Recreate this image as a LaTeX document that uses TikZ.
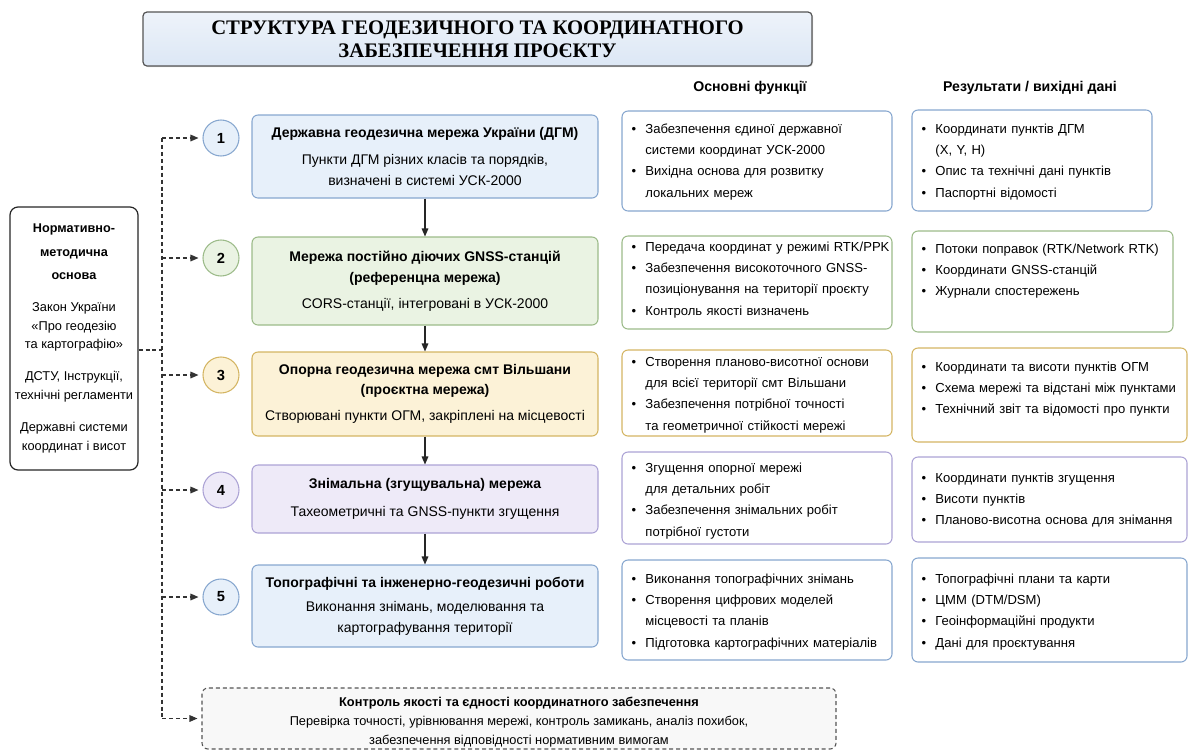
\documentclass[tikz,border=0pt]{standalone}
\usepackage{fontspec}
\setmainfont{Liberation Sans}
\newfontfamily\headfont{Liberation Serif}
\usetikzlibrary{arrows.meta,positioning,shadows}

\definecolor{gdblue}{HTML}{E7F0FA}
\definecolor{gdblueline}{HTML}{87A7CF}
\definecolor{gdgreen}{HTML}{EAF3E3}
\definecolor{gdgreenline}{HTML}{9CBB89}
\definecolor{gdyellow}{HTML}{FCF2D7}
\definecolor{gdyellowline}{HTML}{D4B563}
\definecolor{gdpurple}{HTML}{EEEAF8}
\definecolor{gdpurpleline}{HTML}{ACA3D5}
\definecolor{gdtitle}{HTML}{DCE7F5}
\definecolor{gdtitletop}{HTML}{EEF3FA}
\definecolor{gdgray}{HTML}{555555}
\definecolor{gdctrl}{HTML}{F8F8F8}

% bullet item with hanging indent
\newcommand{\bul}[1]{\par\hangindent=1.05em\hangafter=1\noindent\makebox[1.05em][l]{\textbullet}#1\par}

\begin{document}
\begin{tikzpicture}[x=0.75pt,y=-0.75pt,
  stage/.style={draw=#1line,fill=#1,line width=0.8pt,rounded corners=4.5pt,
    minimum width=259.5pt,align=center,font=\fontsize{10.5}{15.5}\selectfont},
  numdisc/.style={circle,draw=#1line,fill=#1,line width=0.8pt,minimum size=27pt,
    inner sep=0pt,font=\bfseries\fontsize{11}{12}\selectfont},
  listbox/.style={draw=#1,fill=white,line width=0.8pt,rounded corners=4.5pt},
  items/.style={anchor=north west,inner sep=0pt,text width=#1,align=left,
    font=\fontsize{9.8}{16}\selectfont},
  colhead/.style={font=\bfseries\fontsize{10.6}{12}\selectfont},
  flow/.style={draw=black!85,line width=0.8pt,-{Triangle[length=6pt,width=5pt]}},
  link/.style={draw=black!80,line width=0.8pt,dash pattern=on 3pt off 2.2pt},
  linkarrow/.style={link,shorten >=3pt,-{Triangle[length=6pt,width=5pt]}}]

  \useasboundingbox (0,0) rectangle (1189,751);

  % ---- Title ------------------------------------------------
  \node[draw=gdgray,line width=0.9pt,top color=gdtitletop,bottom color=gdtitle,
    rounded corners=3pt,minimum width=501.75pt,minimum height=40.5pt,align=center,
    drop shadow={opacity=0.3,shadow xshift=0.8pt,shadow yshift=-0.8pt},
    font=\headfont\bfseries\fontsize{15.5}{17.5}\selectfont] (title) at (477.5,39)
    {СТРУКТУРА ГЕОДЕЗИЧНОГО ТА КООРДИНАТНОГО\\ЗАБЕЗПЕЧЕННЯ ПРОЄКТУ};

  % ---- Column headers ---------------------------------------
  \node[colhead] (hfun) at (750,88) {Основні функції};
  \node[colhead] (hres) at (1030,88) {Результати / вихідні дані};

  % ---- Main chain of networks -------------------------------
  \node[stage=gdblue,minimum height=62.25pt] (s1) at (425,156.5)
    {\textbf{Державна геодезична мережа України (ДГМ)}\\[5pt]
     Пункти ДГМ різних класів та порядків,\\визначені в системі УСК-2000};
  \node[stage=gdgreen,minimum height=66pt] (s2) at (425,281)
    {\textbf{Мережа постійно діючих GNSS-станцій}\\\textbf{(референцна мережа)}\\[4pt]
     CORS-станції, інтегровані в УСК-2000};
  \node[stage=gdyellow,minimum height=63pt] (s3) at (425,394)
    {\textbf{Опорна геодезична мережа смт Вільшани}\\\textbf{(проєктна мережа)}\\[4pt]
     Створювані пункти ОГМ, закріплені на місцевості};
  \node[stage=gdpurple,minimum height=51pt] (s4) at (425,499)
    {\textbf{Знімальна (згущувальна) мережа}\\[5pt]
     Тахеометричні та GNSS-пункти згущення};
  \node[stage=gdblue,minimum height=61.5pt] (s5) at (425,606)
    {\textbf{Топографічні та інженерно-геодезичні роботи}\\[3pt]
     Виконання знімань, моделювання та\\картографування території};

  \foreach \a/\b in {s1/s2,s2/s3,s3/s4,s4/s5}
    \draw[flow] (\a) -- (\b);

  % Numbered discs
  \node[numdisc=gdblue]   (c1) at (221,138) {1};
  \node[numdisc=gdgreen]  (c2) at (221,258) {2};
  \node[numdisc=gdyellow] (c3) at (221,375) {3};
  \node[numdisc=gdpurple] (c4) at (221,490) {4};
  \node[numdisc=gdblue]   (c5) at (221,597) {5};

  % ---- Functions column -------------------------------------
  \node[listbox=gdblueline,minimum width=202.5pt,minimum height=75pt] (f1) at (757,161) {};
  \node[items=215pt] (f1t) at ([shift={(10,1)}]f1.north west)
    {\bul{Забезпечення єдиної державної\newline системи координат УСК-2000}%
     \bul{Вихідна основа для розвитку\newline локальних мереж}};
  \node[listbox=gdgreenline,minimum width=202.5pt,minimum height=69.75pt] (f2) at (757,282.5) {};
  \node[items=215pt] (f2t) at ([shift={(10,-6)}]f2.north west)
    {\bul{Передача координат у режимі RTK/PPK}%
     \bul{Забезпечення високоточного GNSS-\newline позиціонування на території проєкту}%
     \bul{Контроль якості визначень}};
  \node[listbox=gdyellowline,minimum width=202.5pt,minimum height=64.5pt] (f3) at (757,393) {};
  \node[items=215pt] (f3t) at ([shift={(10,-5)}]f3.north west)
    {\bul{Створення планово-висотної основи\newline для всієї території смт Вільшани}%
     \bul{Забезпечення потрібної точності\newline та геометричної стійкості мережі}};
  \node[listbox=gdpurpleline,minimum width=202.5pt,minimum height=69pt] (f4) at (757,498) {};
  \node[items=215pt] (f4t) at ([shift={(10,-1)}]f4.north west)
    {\bul{Згущення опорної мережі\newline для детальних робіт}%
     \bul{Забезпечення знімальних робіт\newline потрібної густоти}};
  \node[listbox=gdblueline,minimum width=202.5pt,minimum height=75pt] (f5) at (757,610) {};
  \node[items=215pt] (f5t) at ([shift={(10,2)}]f5.north west)
    {\bul{Виконання топографічних знімань}%
     \bul{Створення цифрових моделей\newline місцевості та планів}%
     \bul{Підготовка картографічних матеріалів}};

  % ---- Results column ---------------------------------------
  \node[listbox=gdblueline,minimum width=180pt,minimum height=75.75pt] (r1) at (1032,160.5) {};
  \node[items=215pt] (r1t) at ([shift={(10,2)}]r1.north west)
    {\bul{Координати пунктів ДГМ\newline (X, Y, H)}%
     \bul{Опис та технічні дані пунктів}%
     \bul{Паспортні відомості}};
  \node[listbox=gdgreenline,minimum width=195.75pt,minimum height=75.75pt] (r2) at (1042.5,281.5) {};
  \node[items=215pt] (r2t) at ([shift={(10,1)}]r2.north west)
    {\bul{Потоки поправок (RTK/Network RTK)}%
     \bul{Координати GNSS-станцій}%
     \bul{Журнали спостережень}};
  \node[listbox=gdyellowline,minimum width=206.25pt,minimum height=70.5pt] (r3) at (1049.5,395) {};
  \node[items=215pt] (r3t) at ([shift={(10,2)}]r3.north west)
    {\bul{Координати та висоти пунктів ОГМ}%
     \bul{Схема мережі та відстані між пунктами}%
     \bul{Технічний звіт та відомості про пункти}};
  \node[listbox=gdpurpleline,minimum width=206.25pt,minimum height=63.75pt] (r4) at (1049.5,499.5) {};
  \node[items=215pt] (r4t) at ([shift={(10,4)}]r4.north west)
    {\bul{Координати пунктів згущення}%
     \bul{Висоти пунктів}%
     \bul{Планово-висотна основа для знімання}};
  \node[listbox=gdblueline,minimum width=206.25pt,minimum height=78pt] (r5) at (1049.5,610) {};
  \node[items=215pt] (r5t) at ([shift={(10,4)}]r5.north west)
    {\bul{Топографічні плани та карти}%
     \bul{ЦММ (DTM/DSM)}%
     \bul{Геоінформаційні продукти}%
     \bul{Дані для проєктування}};

  % ---- Normative basis and quality control ------------------
  \node[draw=black!85,fill=white,line width=0.9pt,rounded corners=6pt,
    minimum width=96pt,minimum height=197.25pt,align=center,
    font=\fontsize{9.6}{14}\selectfont] (norm) at (74,338.5)
    {\textbf{\fontsize{9.5}{14}\selectfont Нормативно-}\\[3.5pt]
     \textbf{\fontsize{9.5}{14}\selectfont методична}\\[3.5pt]
     \textbf{\fontsize{9.5}{14}\selectfont основа}\\[10pt]
     Закон України\\«Про геодезію\\та картографію»\\[10pt]
     ДСТУ, Інструкції,\\технічні регламенти\\[10pt]
     Державні системи\\координат і висот};

  \node[draw=gdgray,fill=gdctrl,line width=0.8pt,dash pattern=on 3pt off 2.2pt,
    rounded corners=4.5pt,minimum width=475.5pt,minimum height=45.75pt] (ctrl) at (519,718.5) {};
  \node[align=center,font=\fontsize{9.6}{14.25}\selectfont] (ctrlt) at ([yshift=-3pt]ctrl.center)
    {\textbf{Контроль якості та єдності координатного забезпечення}\\
     Перевірка точності, урівнювання мережі, контроль замикань, аналіз похибок,\\
     забезпечення відповідності нормативним вимогам};

  % Dashed distribution line
  \coordinate (join) at (162,350);
  \coordinate (spinetop) at (c1 -| join);
  \coordinate (spinebot) at (ctrl.west -| join);
  \draw[link] (spinetop) -- (spinebot);
  \draw[link] (norm.east |- join) -- (join);
  \foreach \n in {1,...,5}
    \draw[linkarrow] (c\n -| join) -- (c\n.west);
  \draw[linkarrow] (spinebot) -- (ctrl.west);

\end{tikzpicture}
\end{document}
